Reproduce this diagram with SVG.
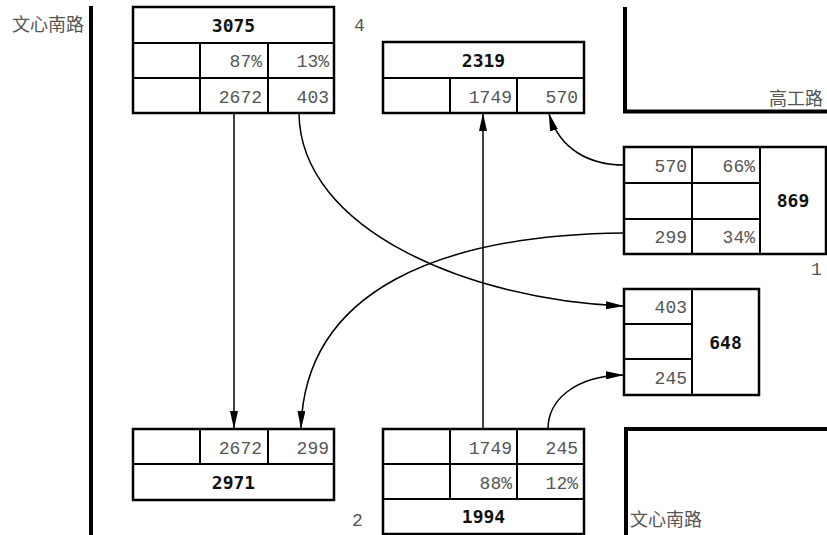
<svg xmlns="http://www.w3.org/2000/svg" width="827" height="535" viewBox="0 0 827 535">
<style>
.cell{fill:#fff;stroke:#000;stroke-width:2.5}
.ln{stroke:#000;stroke-width:2;fill:none}
.v{font-family:"Liberation Mono","Courier New",monospace;font-size:18px;fill:#555;text-anchor:end}
.b{font-family:"DejaVu Sans Mono","Liberation Mono",monospace;font-size:18px;font-weight:bold;fill:#111;text-anchor:middle}
.lab{font-family:"Liberation Mono","Courier New",monospace;font-size:18px;fill:#555}
.road{stroke:#000;stroke-width:4;fill:none}
.rn{font-family:"Noto Sans CJK SC","Noto Sans CJK TC",sans-serif;font-size:18px;fill:#555}
.c{stroke:#000;stroke-width:1.5;fill:none;marker-end:url(#ah)}
</style>
<defs>
<marker id="ah" markerUnits="userSpaceOnUse" markerWidth="18" markerHeight="8" refX="17" refY="4" orient="auto">
<path d="M0,0 L18,4 L0,8 z" fill="#000"/>
</marker>
</defs>
<g id="roads">
<path class="road" d="M91,6 V535"/>
<path class="road" d="M625,7 V111.5 H827"/>
<path class="road" d="M626,535 V429 H827"/>
<text class="rn" x="12" y="31">文心南路</text>
<text class="rn" x="823" y="105" text-anchor="end">高工路</text>
<text class="rn" x="630" y="526">文心南路</text>
</g>
<g id="labels">
<text class="lab" x="354" y="31">4</text>
<text class="lab" x="811" y="275">1</text>
<text class="lab" x="352" y="526">2</text>
</g>
<g id="node4">
<rect class="cell" x="133" y="7" width="201" height="106"/>
<path class="ln" d="M133,43 H334 M133,78 H334 M200,43 V113 M268,43 V113"/>
<text class="b" x="233.5" y="32">3075</text>
<text class="v" x="262" y="67">87%</text>
<text class="v" x="329" y="67">13%</text>
<text class="v" x="262" y="103">2672</text>
<text class="v" x="329" y="103">403</text>
</g>
<g id="node2319">
<rect class="cell" x="383" y="42" width="201" height="71"/>
<path class="ln" d="M383,78 H584 M450,78 V113 M517,78 V113"/>
<text class="b" x="483.5" y="67">2319</text>
<text class="v" x="512" y="103">1749</text>
<text class="v" x="578" y="103">570</text>
</g>
<g id="node869">
<rect class="cell" x="624" y="147" width="202" height="107"/>
<path class="ln" d="M624,183 H760 M624,219 H760 M692,147 V254 M760,147 V254"/>
<text class="v" x="687" y="172">570</text>
<text class="v" x="755" y="172">66%</text>
<text class="v" x="687" y="243">299</text>
<text class="v" x="755" y="243">34%</text>
<text class="b" x="793" y="207">869</text>
</g>
<g id="node648">
<rect class="cell" x="624" y="289" width="135" height="106"/>
<path class="ln" d="M624,324 H692 M624,359 H692 M692,289 V395"/>
<text class="v" x="687" y="313">403</text>
<text class="v" x="687" y="384">245</text>
<text class="b" x="725.5" y="349">648</text>
</g>
<g id="node2971">
<rect class="cell" x="133" y="429" width="201" height="71"/>
<path class="ln" d="M133,464 H334 M200,429 V464 M268,429 V464"/>
<text class="v" x="262" y="453.5">2672</text>
<text class="v" x="329" y="453.5">299</text>
<text class="b" x="233.5" y="489">2971</text>
</g>
<g id="node1994">
<rect class="cell" x="383" y="429" width="201" height="105"/>
<path class="ln" d="M383,464 H584 M383,499 H584 M450,429 V499 M517,429 V499"/>
<text class="v" x="512" y="453.5">1749</text>
<text class="v" x="578" y="453.5">245</text>
<text class="v" x="512" y="488.5">88%</text>
<text class="v" x="578" y="488.5">12%</text>
<text class="b" x="483.5" y="523">1994</text>
</g>
<g id="connectors">
<path class="c" d="M234,113 V428"/>
<path class="c" d="M299,113 C300,230 470,300 623,306"/>
<path class="c" d="M624,233 C440,235 305,290 301,428"/>
<path class="c" d="M483,429 V114"/>
<path class="c" d="M624,165 C590,165 560,150 549,114"/>
<path class="c" d="M548,429 C548,400 575,376 623,375"/>
</g>
</svg>
